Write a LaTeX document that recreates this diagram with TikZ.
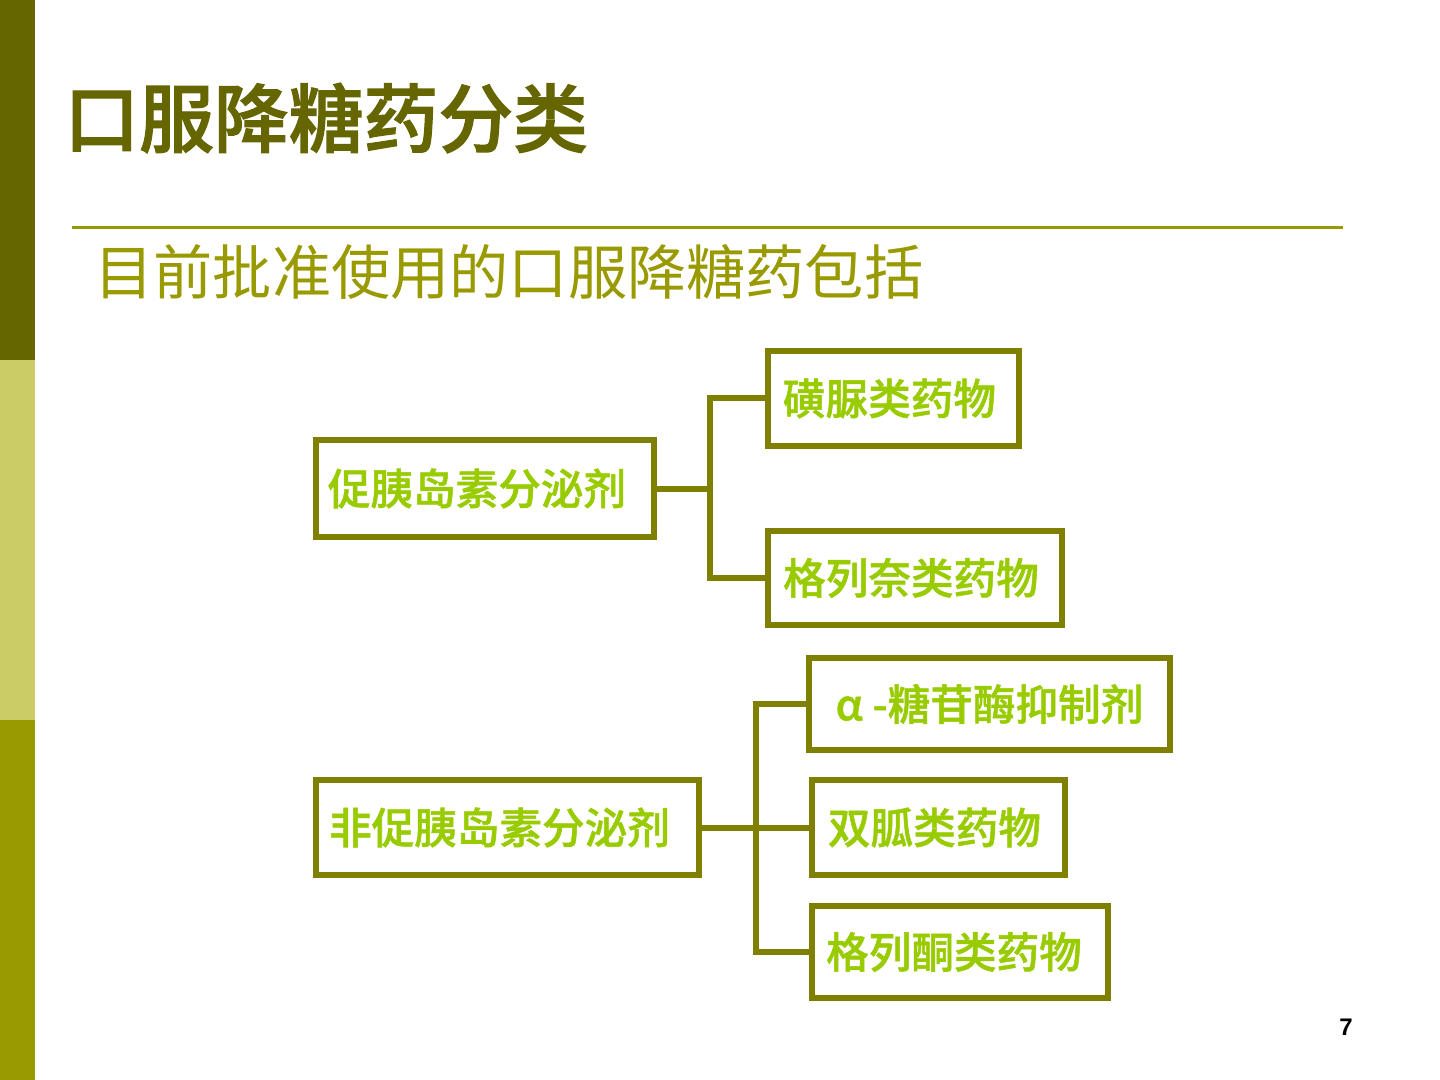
\documentclass[tikz,border=0pt]{standalone}
\usepackage{fontspec}
\newfontfamily\cjk{Noto Sans CJK SC}
\newfontfamily\cjkm{Noto Sans CJK SC}[UprightFont=* Medium, FakeBold=1.2]
\newfontfamily\cjkt{Noto Sans CJK SC}[UprightFont=* Medium, FakeBold=1.6]
\newfontfamily\numfont{Liberation Sans}
\definecolor{darkolive}{HTML}{666600}
\definecolor{midolive}{HTML}{999900}
\definecolor{lightolive}{HTML}{CCCC66}
\definecolor{boxline}{HTML}{808000}
\definecolor{boxtext}{HTML}{99CC00}
\begin{document}
\begin{tikzpicture}[x=0.5pt,y=-0.5pt,
  box/.style={draw=boxline, line width=3pt, fill=white, inner sep=0pt,
    font=\cjkm\fontsize{21.3pt}{24pt}\selectfont, text=boxtext, align=center},
  conn/.style={draw=boxline, line width=3pt, line join=miter}]
\useasboundingbox (0,0) rectangle (1440,1080);
\fill[white] (0,0) rectangle (1440,1080);
% left bar
\fill[darkolive] (0,0) rectangle (35,360);
\fill[lightolive] (0,360) rectangle (35,720);
\fill[midolive] (0,720) rectangle (35,1080);
% title
\node[anchor=west, inner sep=0pt, text=darkolive, font=\cjkt\fontsize{37.4pt}{40pt}\selectfont] (title) at (64,118) {口服降糖药分类};
\draw[midolive, line width=1.5pt] (72,228) -- (1343,228);
\node[anchor=west, inner sep=0pt, text=midolive, font=\cjk\fontsize{29.6pt}{32pt}\selectfont] (sub) at (94,272) {目前批准使用的口服降糖药包括};
% boxes
\node[box, minimum width=169pt, minimum height=48.5pt] (b1) at (485,488.5) {促胰岛素分泌剂\hspace*{8pt}};
\node[box, minimum width=125.5pt, minimum height=47.5pt] (b2) at (893.5,398.5) {磺脲类药物\hspace*{4pt}};
\node[box, minimum width=147pt, minimum height=47pt] (b3) at (915,578) {格列奈类药物\hspace*{4pt}};
\node[box, minimum width=180.5pt, minimum height=46pt] (b4) at (989.5,704) {α -糖苷酶抑制剂};
\node[box, minimum width=191.5pt, minimum height=47.5pt] (b5) at (507.5,827.5) {非促胰岛素分泌剂\hspace*{8pt}};
\node[box, minimum width=126.5pt, minimum height=47.5pt] (b6) at (938.5,827.5) {双胍类药物\hspace*{4pt}};
\node[box, minimum width=148pt, minimum height=46pt] (b7) at (960,952) {格列酮类药物\hspace*{6pt}};
% connectors
\coordinate (j1) at (710,488.5);
\coordinate (j2) at (756,827.5);
\draw[conn] (b1.east) -- (j1);
\draw[conn] (b2.west) -| (j1) |- (b3.west);
\draw[conn] (b5.east) -- (b6.west);
\draw[conn] (b4.west) -| (j2) |- (b7.west);
% page number
\node[inner sep=0pt, font=\numfont\bfseries\fontsize{12pt}{14pt}\selectfont] (pg) at (1346,1027) {7};
\end{tikzpicture}
\end{document}
